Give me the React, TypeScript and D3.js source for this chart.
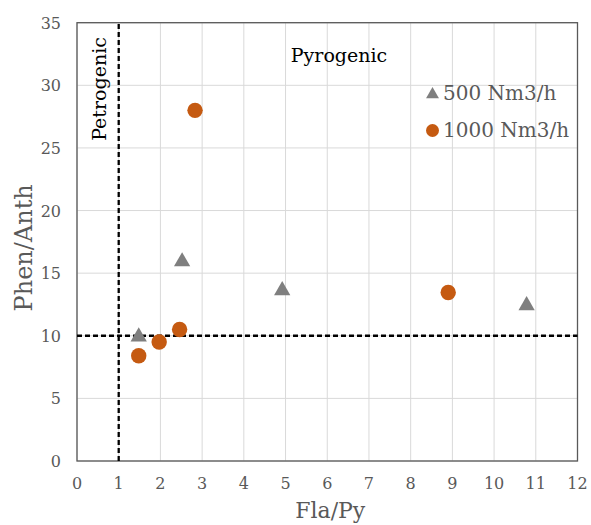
import React from "react";
import * as d3 from "d3";

// Fla/Py vs Phen/Anth diagnostic ratios for two flow rates
const flow500X = [1.48, 2.52, 4.92, 10.78];
const flow500Y = [10.0, 16.0, 13.7, 12.5];
const flow1000X = [1.48, 1.97, 2.46, 2.83, 8.9];
const flow1000Y = [8.4, 9.5, 10.5, 28.0, 13.45];

const xTicks = [0, 1, 2, 3, 4, 5, 6, 7, 8, 9, 10, 11, 12];
const yTicks = [0, 5, 10, 15, 20, 25, 30, 35];

const xThreshold = 1;
const yThreshold = 10;

const W = 591;
const H = 525;
const margin = { left: 77, right: 13.5, top: 22.7, bottom: 64 };
const FONT = "'DejaVu Serif', serif";
const GRAY = "#7F7F7F";
const ORANGE = "#C55A11";
const TEXT = "#595959";

export default function App() {
  const x = d3.scaleLinear().domain([0, 12]).range([margin.left, W - margin.right]);
  const y = d3.scaleLinear().domain([0, 35]).range([H - margin.bottom, margin.top]);
  const tri = d3.symbol().type(d3.symbolTriangle).size(115)()!;
  const legendTri = d3.symbol().type(d3.symbolTriangle).size(72)()!;
  const [x0, x1] = x.range();
  const [y0, y1] = y.range();

  return (
    <svg width={W} height={H} style={{ position: "absolute", left: 0, top: 0, background: "#fff" }}>
      <rect width={W} height={H} fill="#fff" />
      {xTicks.map((t) => (
        <line key={"gx" + t} x1={x(t)} x2={x(t)} y1={y0} y2={y1} stroke="#D9D9D9" strokeWidth={1} />
      ))}
      {yTicks.map((t) => (
        <line key={"gy" + t} x1={x0} x2={x1} y1={y(t)} y2={y(t)} stroke="#D9D9D9" strokeWidth={1} />
      ))}
      <rect x={x0} y={y1} width={x1 - x0} height={y0 - y1} fill="none" stroke="#595959" strokeWidth={1.3} />

      {xTicks.map((t) => (
        <text key={"tx" + t} x={x(t)} y={y0 + 28} textAnchor="middle" fontFamily={FONT} fontSize={16} fill={TEXT}>
          {t}
        </text>
      ))}
      {yTicks.map((t) => (
        <text key={"ty" + t} x={x0 - 16} y={y(t) + 6} textAnchor="end" fontFamily={FONT} fontSize={16} fill={TEXT}>
          {t}
        </text>
      ))}

      <line x1={x(xThreshold)} x2={x(xThreshold)} y1={y0} y2={y1} stroke="#000" strokeWidth={2.3} strokeDasharray="5,3" />
      <line x1={x0} x2={x1} y1={y(yThreshold)} y2={y(yThreshold)} stroke="#000" strokeWidth={2.3} strokeDasharray="5,3" />

      {flow1000X.map((v, i) => (
        <circle key={"c" + i} cx={x(v)} cy={y(flow1000Y[i])} r={7.7} fill={ORANGE} />
      ))}
      {flow500X.map((v, i) => (
        <path key={"t" + i} d={tri} transform={`translate(${x(v)},${y(flow500Y[i]) + 1})`} fill={GRAY} />
      ))}

      <text transform="translate(106,89) rotate(-90)" textAnchor="middle" fontFamily={FONT} fontSize={19} fill="#000">
        Petrogenic
      </text>
      <text x={339} y={62} textAnchor="middle" fontFamily={FONT} fontSize={19} fill="#000">
        Pyrogenic
      </text>

      <path d={legendTri} transform="translate(432.5,94.5)" fill={GRAY} />
      <text x={443} y={100} fontFamily={FONT} fontSize={20} fill={TEXT}>
        500 Nm3/h
      </text>
      <circle cx={432.5} cy={130.5} r={6.5} fill={ORANGE} />
      <text x={443} y={137} fontFamily={FONT} fontSize={20} fill={TEXT}>
        1000 Nm3/h
      </text>

      <text x={(x0 + x1) / 2 + 3} y={518} textAnchor="middle" fontFamily={FONT} fontSize={22} fill={TEXT}>
        Fla/Py
      </text>
      <text transform={`translate(32,${(y0 + y1) / 2 + 6}) rotate(-90)`} textAnchor="middle" fontFamily={FONT} fontSize={24} fill={TEXT}>
        Phen/Anth
      </text>
    </svg>
  );
}
